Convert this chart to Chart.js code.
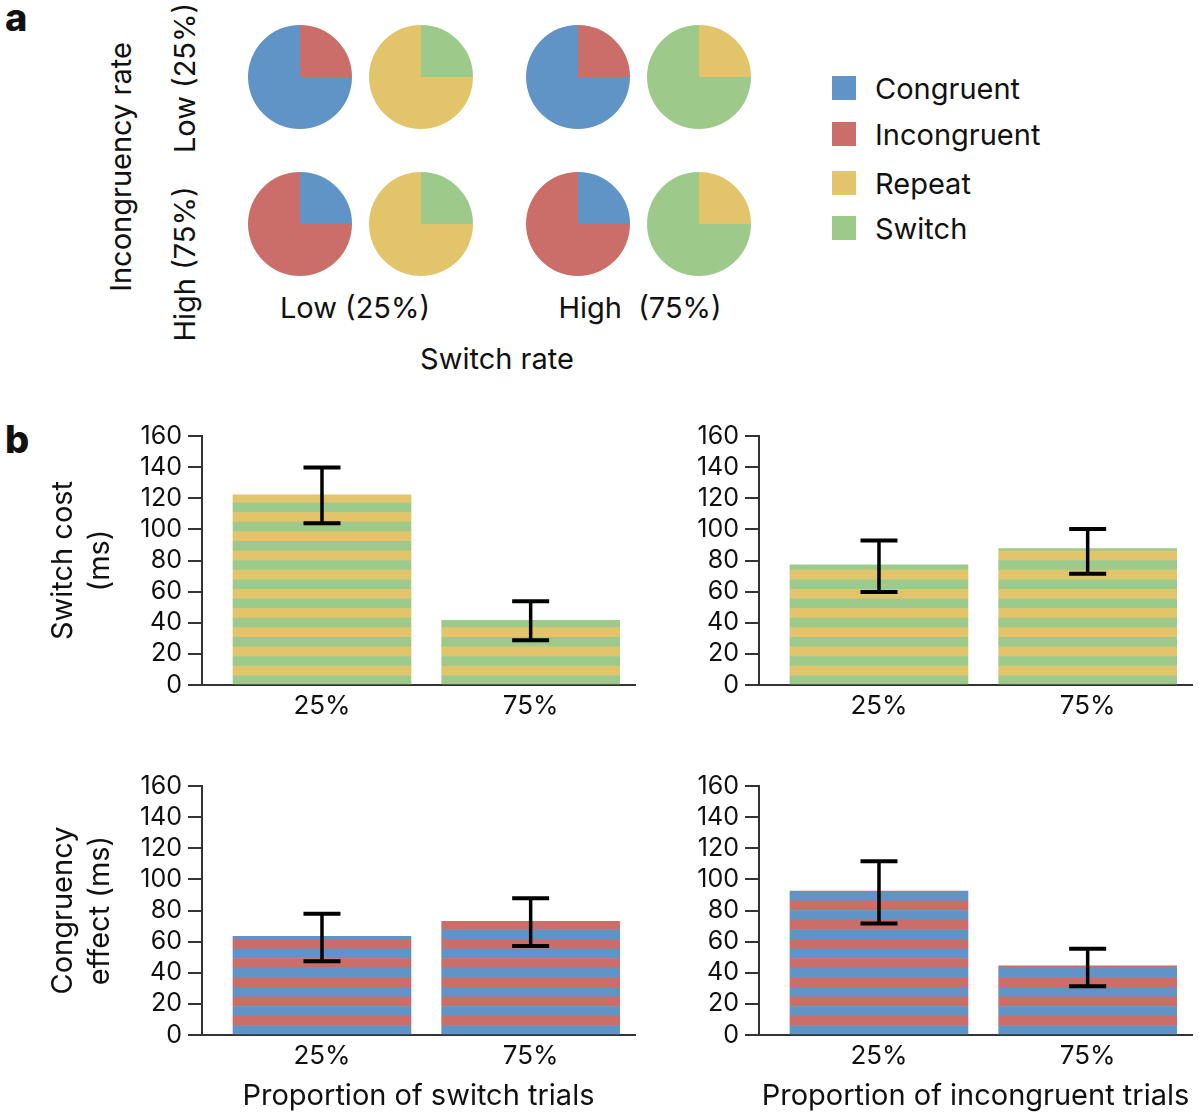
<!DOCTYPE html>
<html>
<head>
<meta charset="utf-8">
<script src="https://cdn.jsdelivr.net/npm/chart.js@4/dist/chart.umd.min.js"></script>
<style>
  body { margin: 0; background: #fff; }
  #page { position: relative; width: 1200px; height: 1119px; overflow: hidden; font-family: 'Inter', sans-serif; color: #111; }
  canvas { position: absolute; }
  .txt { position: absolute; white-space: pre; font-size: 29px; line-height: 1; transform: translate(-50%, -50%); }
  .rot { transform: translate(-50%, -50%) rotate(-90deg); }
  .panel { position: absolute; font-size: 38px; font-weight: 800; line-height: 1; }
  .key { position: absolute; left: 832px; width: 24px; height: 24px; }
  .keytxt { position: absolute; left: 875px; font-size: 29px; line-height: 1; transform: translateY(-50%); }
</style>
</head>
<body>
<div id="page">
  <div class="panel" style="left:5px; top:-2px">a</div>
  <div class="panel" style="left:5px; top:420px">b</div>
  <div class="txt rot" style="left:120px; top:167px">Incongruency rate</div>
  <div class="txt rot" id="rowLow" style="left:184px; top:78px"></div>
  <div class="txt rot" id="rowHigh" style="left:184px; top:264px"></div>
  <div class="txt" id="colLow" style="left:355px; top:307px"></div>
  <div class="txt" id="colHigh" style="left:640px; top:307px"></div>
  <div class="txt" style="left:497px; top:358px">Switch rate</div>
  <div id="legend"></div>

  <canvas id="switchBySwitch" width="650" height="315" style="left:0; top:415px"></canvas>
  <canvas id="switchByIncong" width="640" height="315" style="left:560px; top:415px"></canvas>
  <canvas id="congBySwitch" width="650" height="354" style="left:0; top:765px"></canvas>
  <canvas id="congByIncong" width="640" height="354" style="left:560px; top:765px"></canvas>
</div>
<script>
// ─── DATA ───
const trialTypes = ['Congruent', 'Incongruent', 'Repeat', 'Switch'];
const typeColors = ['#6094C6', '#CB6E6A', '#E2C56A', '#9DCA8A'];

// panel a: rows = incongruency rate, columns = switch rate
const rateRowLabels = ['Low (25%)', 'High (75%)'];
const rateColLabels = ['Low (25%)', 'High  (75%)'];
const congruencyMix = [[75, 25], [25, 75]];   // [congruent, incongruent] per row
const taskMix = [[75, 25], [25, 75]];         // [repeat, switch] per column

// panel b
const barCategories = ['25%', '75%'];
const yTicks = [0, 20, 40, 60, 80, 100, 120, 140, 160];

const switchCostBySwitch = [122.2, 41.6];
const switchCostBySwitchLow = [103.9, 28.8];
const switchCostBySwitchHigh = [139.7, 53.8];

const switchCostByIncong = [77.2, 87.7];
const switchCostByIncongLow = [59.7, 71.5];
const switchCostByIncongHigh = [92.8, 100.3];

const congEffectBySwitch = [63.4, 73.0];
const congEffectBySwitchLow = [47.4, 57.2];
const congEffectBySwitchHigh = [77.9, 87.9];

const congEffectByIncong = [92.4, 44.4];
const congEffectByIncongLow = [71.7, 31.4];
const congEffectByIncongHigh = [111.6, 55.5];

Chart.defaults.font.family = 'Inter';
Chart.defaults.color = '#111';
Chart.defaults.animation = false;

// ─── PANEL A TEXT + LEGEND ───
document.getElementById('rowLow').textContent = rateRowLabels[0];
document.getElementById('rowHigh').textContent = rateRowLabels[1];
document.getElementById('colLow').textContent = rateColLabels[0];
document.getElementById('colHigh').textContent = rateColLabels[1];

const legendTops = [88, 134, 183, 228];
document.getElementById('legend').innerHTML = trialTypes.map((t, i) => `
  <div class="key" style="top:${legendTops[i] - 12}px; background:${typeColors[i]}"></div>
  <div class="keytxt" style="top:${legendTops[i]}px">${t}</div>
`).join('');

// ─── PIES ───
const pieX = [300, 421, 578, 699];
const pieY = [77, 224];
const PIE_R = 52;

function makePie(values, labels, colors, cx, cy) {
  const cv = document.createElement('canvas');
  cv.width = PIE_R * 2; cv.height = PIE_R * 2;
  cv.style.left = (cx - PIE_R) + 'px';
  cv.style.top = (cy - PIE_R) + 'px';
  document.getElementById('page').appendChild(cv);
  // smaller share starts at 12 o'clock
  const order = values.map((v, i) => i).sort((a, b) => values[a] - values[b]);
  new Chart(cv, {
    type: 'pie',
    data: {
      labels: order.map(i => labels[i]),
      datasets: [{
        data: order.map(i => values[i]),
        backgroundColor: order.map(i => colors[i]),
        borderWidth: 0, offset: 0, hoverOffset: 0
      }]
    },
    options: {
      responsive: false, events: [],
      layout: { padding: 0 },
      plugins: { legend: { display: false }, tooltip: { enabled: false } }
    }
  });
}

rateRowLabels.forEach((_, r) => {
  rateColLabels.forEach((_, c) => {
    makePie(congruencyMix[r], trialTypes.slice(0, 2), typeColors.slice(0, 2), pieX[c * 2], pieY[r]);
    makePie(taskMix[c], trialTypes.slice(2, 4), typeColors.slice(2, 4), pieX[c * 2 + 1], pieY[r]);
  });
});

// ─── BARS ───
const STRIPE = 9.6;

// horizontal stripes anchored at the zero line, `base` at the bottom
function stripes(base, alt) {
  return (context) => {
    const chart = context.chart;
    if (!chart.chartArea || !chart.scales.y) return base;
    const n = 10;
    const tile = document.createElement('canvas');
    tile.width = 4; tile.height = Math.round(STRIPE * n);
    const tctx = tile.getContext('2d');
    for (let k = 0; k < n; k++) {
      tctx.fillStyle = (n - 1 - k) % 2 === 0 ? base : alt;
      tctx.fillRect(0, k * STRIPE, 4, STRIPE + 0.5);
    }
    const pattern = chart.ctx.createPattern(tile, 'repeat');
    const y0 = chart.scales.y.getPixelForValue(0);
    pattern.setTransform(new DOMMatrix([1, 0, 0, 1, 0, y0 % tile.height]));
    return pattern;
  };
}

const errorBars = {
  id: 'errorBars',
  afterDatasetsDraw(chart, args, opts) {
    const { ctx, scales: { x, y } } = chart;
    ctx.save();
    ctx.strokeStyle = '#000';
    opts.low.forEach((lo, i) => {
      const px = x.getPixelForValue(i);
      const yl = y.getPixelForValue(lo);
      const yh = y.getPixelForValue(opts.high[i]);
      ctx.lineWidth = 3.5;
      ctx.beginPath(); ctx.moveTo(px, yl); ctx.lineTo(px, yh); ctx.stroke();
      ctx.lineWidth = 4;
      ctx.beginPath();
      ctx.moveTo(px - 18.5, yl); ctx.lineTo(px + 18.5, yl);
      ctx.moveTo(px - 18.5, yh); ctx.lineTo(px + 18.5, yh);
      ctx.stroke();
    });
    ctx.restore();
  }
};

function makeBar(id, values, low, high, colors, yTitle, xTitle, yWidth, padRight) {
  const bottomRow = !!xTitle;
  new Chart(document.getElementById(id), {
    type: 'bar',
    data: {
      datasets: [{
        data: values.map((v, i) => ({ x: i, y: v })),
        backgroundColor: stripes(colors[0], colors[1]),
        borderWidth: 0,
        barThickness: 178
      }]
    },
    options: {
      responsive: false, events: [],
      layout: { padding: { top: 20, right: padRight, left: 0, bottom: 0 } },
      plugins: {
        legend: { display: false }, tooltip: { enabled: false },
        errorBars: { low, high }
      },
      scales: {
        x: {
          type: 'linear', min: -0.575, max: 1.5, offset: false,
          grid: { display: false, drawTicks: false, offset: false },
          border: { display: true, color: '#333', width: 2 },
          afterBuildTicks: (axis) => { axis.ticks = barCategories.map((c, i) => ({ value: i })); },
          afterFit: (axis) => { axis.height = bottomRow ? 84 : 45; },
          ticks: {
            font: { size: 26 }, color: '#111', padding: 6, autoSkip: false, maxRotation: 0,
            callback: (v) => barCategories[v] ?? ''
          },
          title: {
            display: bottomRow, text: xTitle || '',
            font: { size: 29 }, color: '#111', padding: { top: 0, bottom: 5 }
          }
        },
        y: {
          min: 0, max: 160,
          afterBuildTicks: (axis) => { axis.ticks = yTicks.map(v => ({ value: v })); },
          afterFit: (axis) => { axis.width = yWidth; },
          grid: { drawOnChartArea: false, drawTicks: true, tickLength: 14, color: '#333', lineWidth: 2 },
          border: { display: true, color: '#333', width: 2 },
          ticks: { font: { size: 25 }, color: '#111', padding: 6, autoSkip: false },
          title: {
            display: !!yTitle, text: yTitle || '',
            font: { size: 29, lineHeight: 1.3 }, color: '#111', padding: { top: 44, bottom: 0 }
          }
        }
      }
    },
    plugins: [errorBars]
  });
}

const taskColors = [typeColors[3], typeColors[2]];   // switch at the base, repeat above
const congColors = [typeColors[0], typeColors[1]];   // congruent at the base, incongruent above

makeBar('switchBySwitch', switchCostBySwitch, switchCostBySwitchLow, switchCostBySwitchHigh,
  taskColors, ['Switch cost', '(ms)'], null, 202, 15);
makeBar('switchByIncong', switchCostByIncong, switchCostByIncongLow, switchCostByIncongHigh,
  taskColors, null, null, 199, 8);
makeBar('congBySwitch', congEffectBySwitch, congEffectBySwitchLow, congEffectBySwitchHigh,
  congColors, ['Congruency', 'effect (ms)'], 'Proportion of switch trials', 202, 15);
makeBar('congByIncong', congEffectByIncong, congEffectByIncongLow, congEffectByIncongHigh,
  congColors, null, 'Proportion of incongruent trials', 199, 8);
</script>
</body>
</html>
